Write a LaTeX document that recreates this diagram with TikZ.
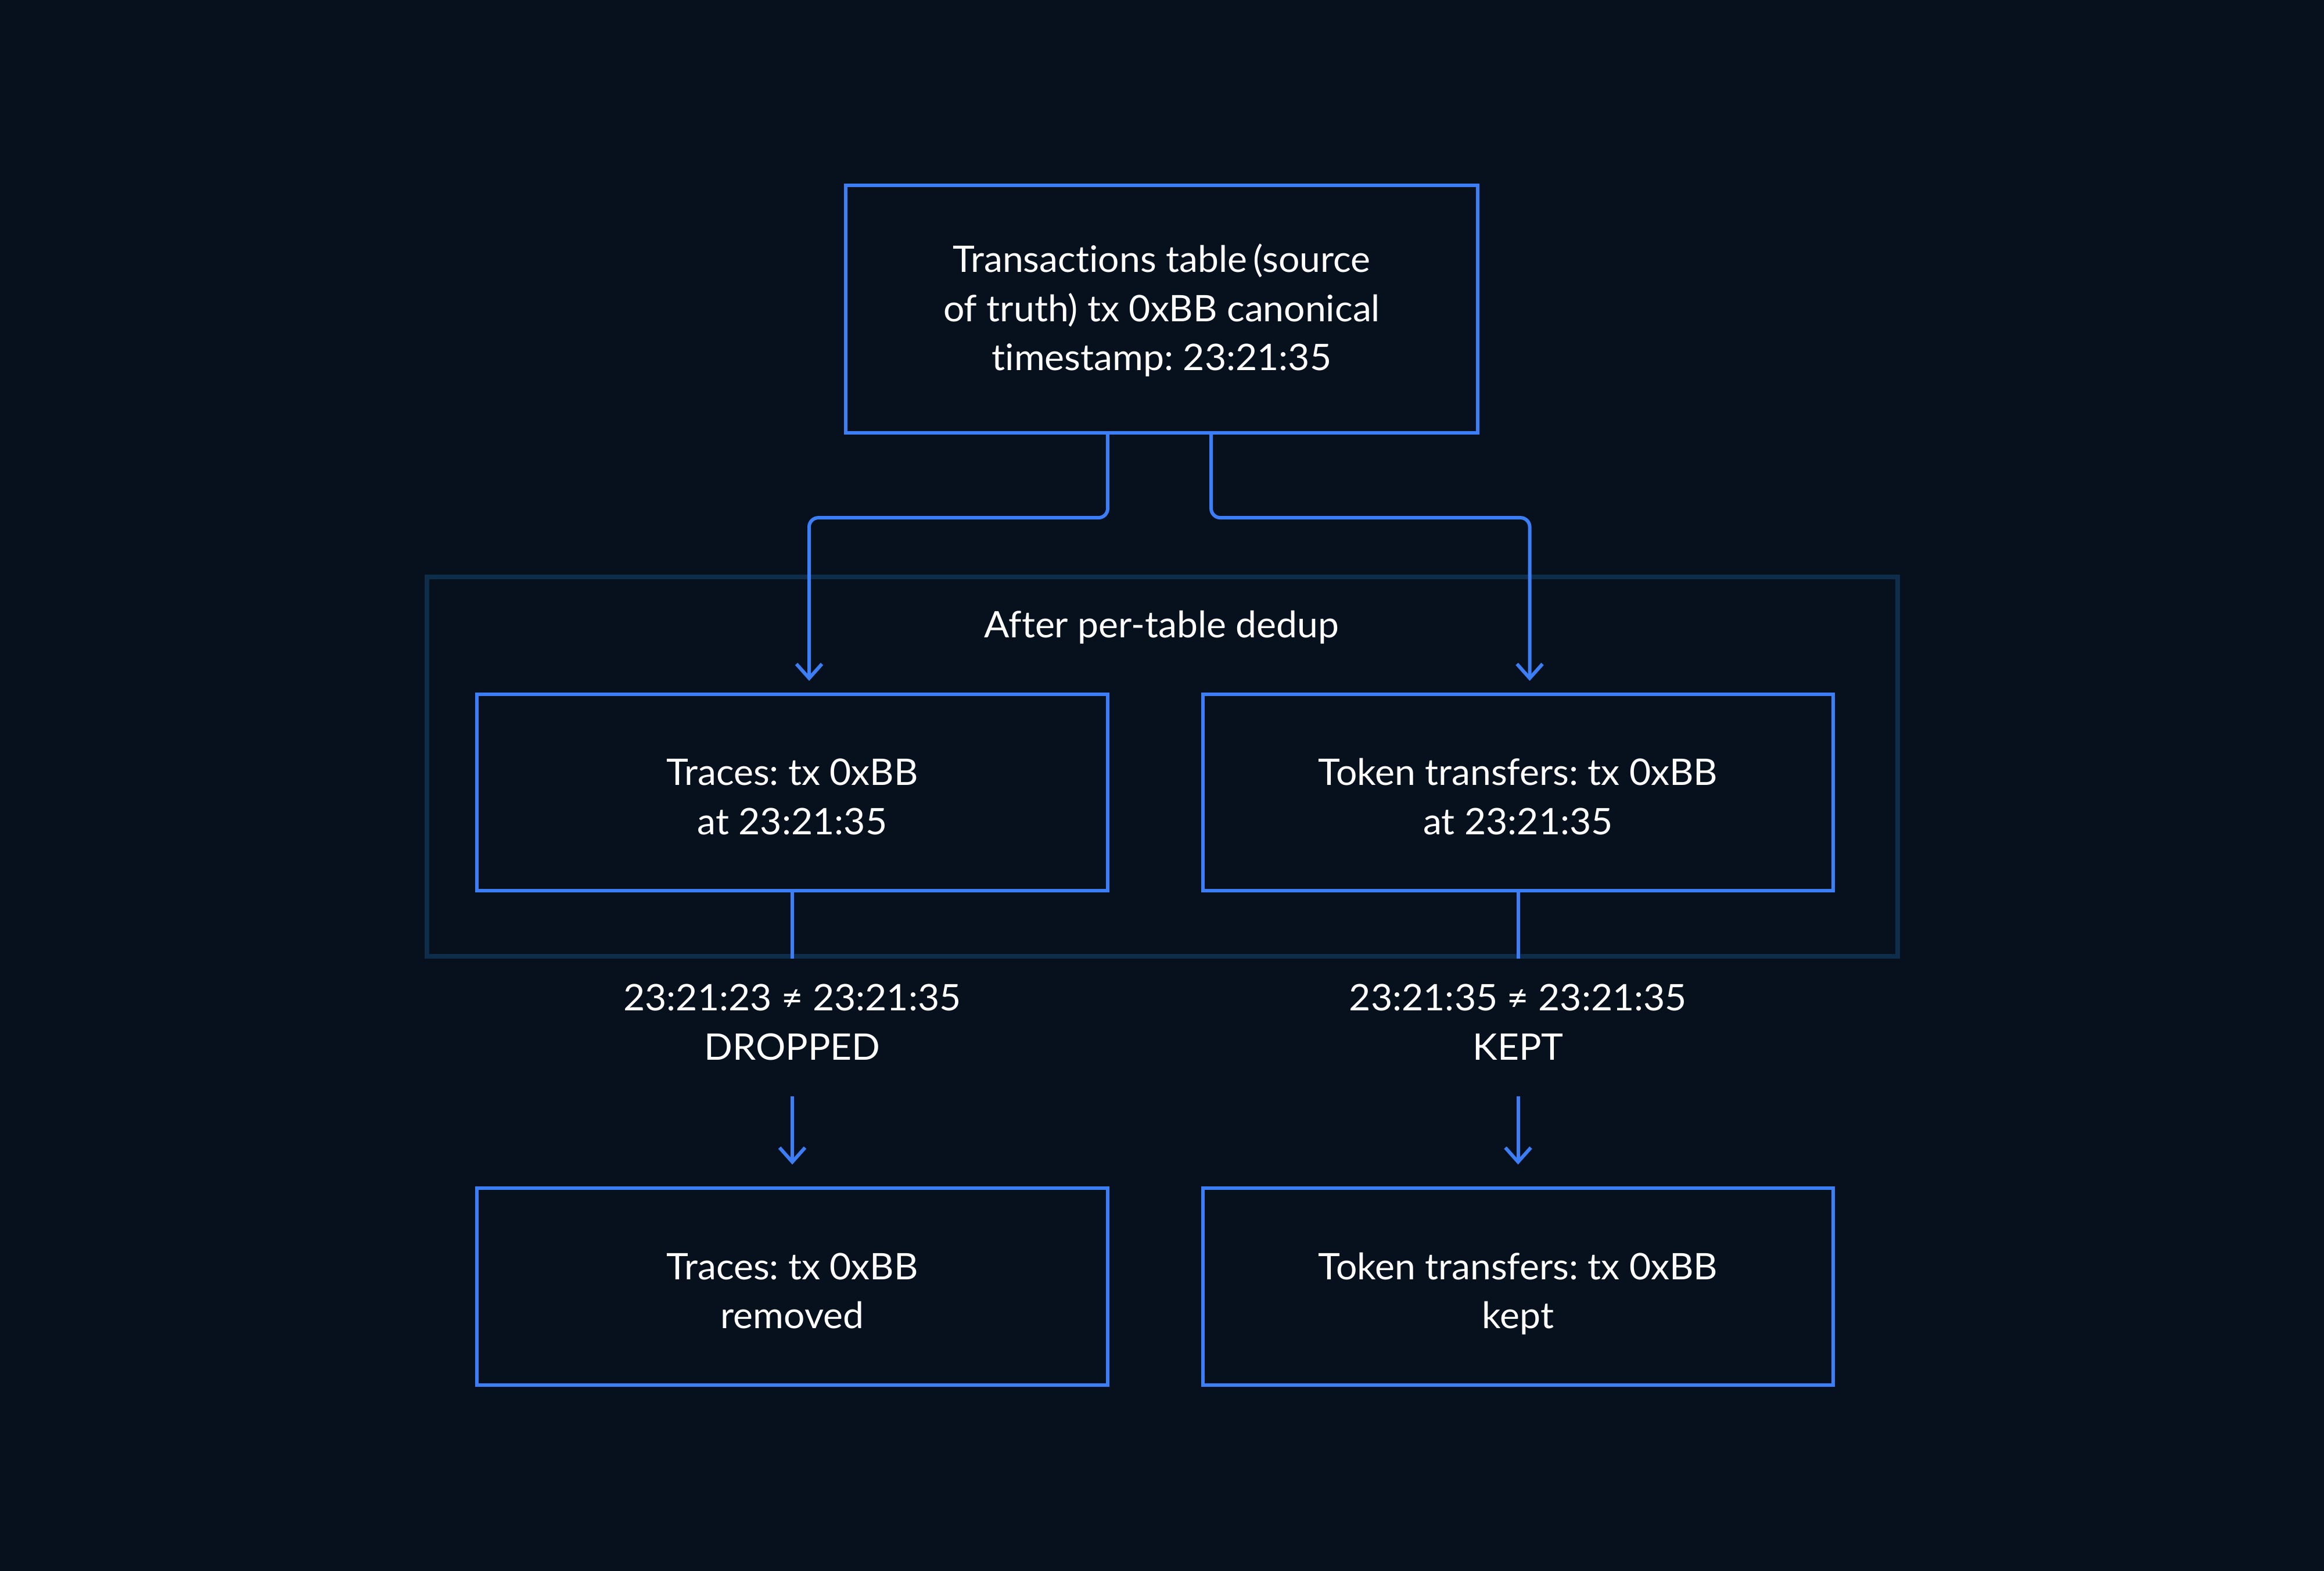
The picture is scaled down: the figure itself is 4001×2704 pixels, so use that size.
\documentclass[tikz,border=0pt]{standalone}
\usepackage{fontspec}
\setmainfont{Lato}[Ligatures=NoCommon, FakeStretch=1.02]
\usetikzlibrary{arrows.meta,calc}
\definecolor{bg}{HTML}{06111D}
\definecolor{edge}{HTML}{3B7EF6}
\definecolor{grpc}{HTML}{0E2D4B}
\newcommand{\txtsz}{\fontsize{17.9pt}{23.9pt}\selectfont\frenchspacing}
\begin{document}
\begin{tikzpicture}[x=0.01cm,y=-0.01cm,
  box/.style={draw=edge, line width=1.7pt, fill=bg, text=white, align=center,
              font=\txtsz, inner sep=0pt, minimum width=10.85cm, minimum height=3.38cm,
              text depth=0pt, text height=40.97pt},
  grp/.style={draw=grpc, line width=2.3pt, inner sep=0pt},
  lbl/.style={text=white, align=center, font=\txtsz, inner sep=0pt, outer sep=0pt},
  conn/.style={draw=edge, line width=1.7pt, rounded corners=4.5pt},
  arr/.style={conn, -{Straight Barb[length=7pt,width=12.5pt,line width=1.7pt]}}]
\fill[bg] (0,0) rectangle (4001,2704);
\useasboundingbox (0,0) rectangle (4001,2704);

\node[box, minimum width=10.87cm, minimum height=4.26cm, text height=59.75pt] (top) at (2000,532)
  {Transactions table\,(source\\of truth) tx 0xBB canonical\\timestamp: 23:21:35};
\node[grp, minimum width=25.30cm, minimum height=6.53cm] (grp) at (2001,1319.5) {};
\node[lbl, anchor=base] (glab) at (2000,1097) {After per-table dedup};
\node[box] (tl) at (1364,1364) {Traces: tx 0xBB\\at 23:21:35};
\node[box] (tr) at (2613.5,1364) {Token transfers: tx 0xBB\\at 23:21:35};
\node[lbl, text depth=0pt, text height=36.4pt] (l1) at (1364,1760) {23:21:23 ≠ 23:21:35\\DROPPED};
\node[lbl, text depth=0pt, text height=36.4pt] (l2) at (2613.5,1760) {23:21:35 ≠ 23:21:35\\KEPT};
\node[box] (bl) at (1364,2214.5) {Traces: tx 0xBB\\removed};
\node[box] (br) at (2613.5,2214.5) {Token transfers: tx 0xBB\\kept};

\draw[arr] ([xshift=-0.93cm]top.south) -- ++(0,143) -| ([xshift=0.29cm,yshift=0.2cm]tl.north);
\draw[arr] ([xshift=0.85cm]top.south) -- ++(0,143) -| ([xshift=0.2cm,yshift=0.2cm]tr.north);
\draw[conn] (tl.south) -- (tl.south |- grp.south);
\draw[conn] (tr.south) -- (tr.south |- grp.south);
\draw[arr] ([yshift=-0.63cm]l1.south) -- ([yshift=0.38cm]bl.north);
\draw[arr] ([yshift=-0.63cm]l2.south) -- ([yshift=0.38cm]br.north);
\end{tikzpicture}
\end{document}
